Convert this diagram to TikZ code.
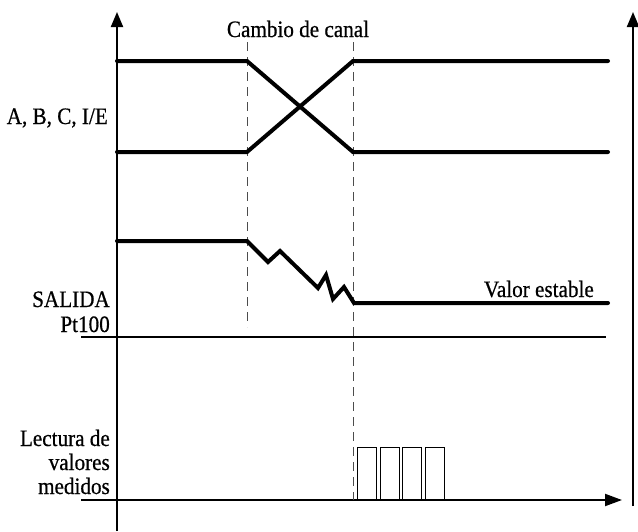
\documentclass[tikz,border=0pt]{standalone}
\usepackage{fontspec}
\setmainfont{Liberation Serif}[FakeStretch=0.9,FakeBold=0.6]
\usepackage{tikz}
\usetikzlibrary{arrows.meta}

\begin{document}
\begin{tikzpicture}[x=1pt,y=-1pt,
	label_node/.style={font=\fontsize{23.5}{24}\selectfont,inner sep=0pt},
	signal_line/.style={line width=4pt,line cap=round},
	axis_line/.style={line width=2pt},
	guide_line/.style={line width=0.9pt,black!70,dash pattern=on 9pt off 6pt},
	read_box/.style={draw,line width=1.4pt,minimum width=19pt,minimum height=52pt,inner sep=0pt}]
	\useasboundingbox (0,0) rectangle (638,531);

	% axes
	\coordinate (l_bot) at (117,531);
	\coordinate (l_top) at (117,12);
	\coordinate (r_bot) at (633,506);
	\coordinate (r_top) at (633,12);
	\coordinate (t_start) at (81,500);
	\coordinate (t_end) at (622,500);
	\coordinate (p_start) at (81,337);
	\coordinate (p_end) at (606,337);
	\draw[axis_line,-{Triangle[length=15pt,width=12pt]}] (l_bot) -- (l_top);
	\draw[axis_line,-{Triangle[length=15pt,width=12pt]}] (r_bot) -- (r_top);
	\draw[axis_line,-{Triangle[length=17pt,width=12pt]}] (t_start) -- (t_end);
	\draw[axis_line] (p_start) -- (p_end);

	% guides
	\coordinate (g1_top) at (247,42);
	\coordinate (g1_bot) at (247,327);
	\coordinate (g2_top) at (353,42);
	\coordinate (g2_bot) at (353,500);
	\draw[guide_line] (g1_top) -- (g1_bot);
	\draw[guide_line] (g2_top) -- (g2_bot);

	% labels
	\node[label_node,anchor=base] (cambio) at (298,37) {Cambio de canal};
	\node[label_node,anchor=base east] (abc) at (108,124) {A, B, C, I/E};
	\node[label_node,anchor=base east] (salida) at (110,307) {SALIDA};
	\node[label_node,anchor=base east] (pt) at (110,332) {Pt100};
	\node[label_node,anchor=base east] (estable) at (594,297) {Valor estable};
	\node[label_node,anchor=base east] (lectura) at (110,446) {Lectura de};
	\node[label_node,anchor=base east] (valores) at (110,470) {valores};
	\node[label_node,anchor=base east] (medidos) at (110,494) {medidos};

	% channel lines
	\draw[signal_line] (117,61) -- (247,61) -- (353,152) -- (608,152);
	\draw[signal_line] (117,152) -- (247,152) -- (353,61) -- (608,61);

	% output signal
	\draw[signal_line] (117,241) -- (247,241) -- (268,262) -- (280,251) -- (318,288)
		-- (326,275) -- (333,299) -- (344,287) -- (354,303) -- (608,303);

	% readings
	\foreach \i in {0,...,3}
		\node[read_box,anchor=south west] (r\i) at (357+22.5*\i,500) {};
\end{tikzpicture}
\end{document}
